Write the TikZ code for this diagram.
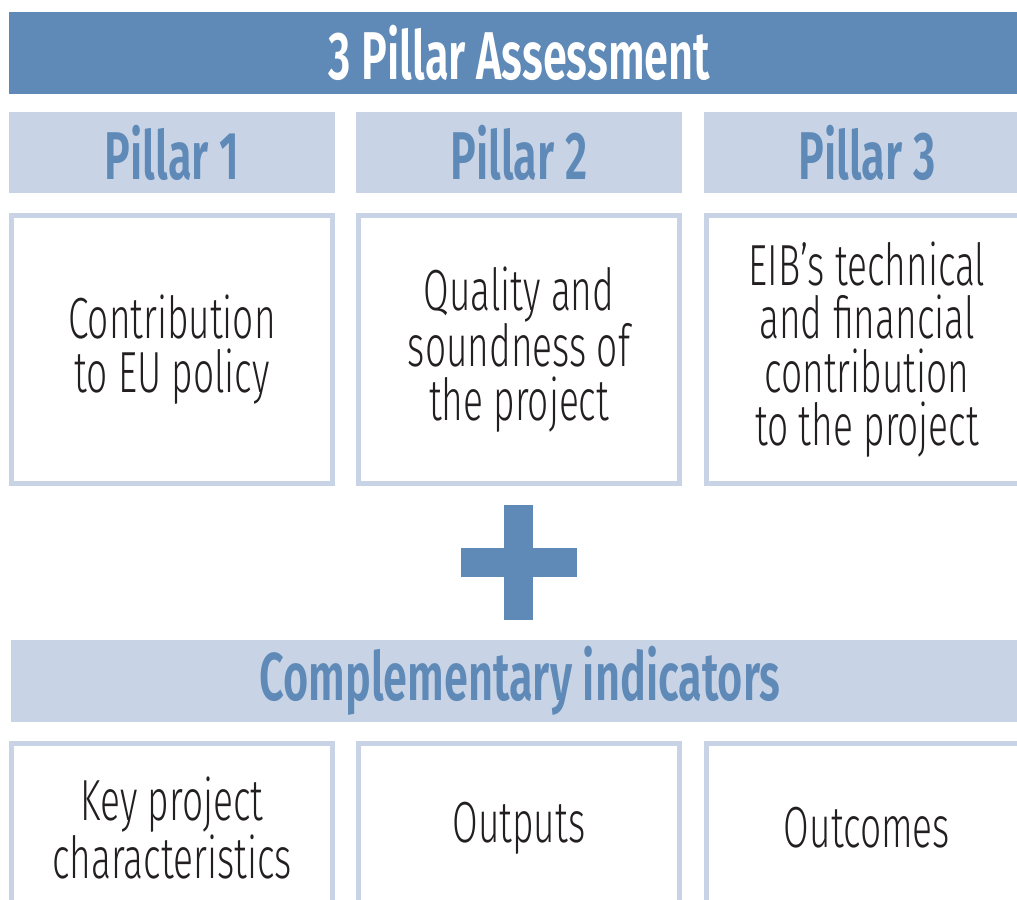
\documentclass[tikz,border=0pt]{standalone}
\usepackage{fontspec}
\setmainfont{Fira Sans}[UprightFont=* Light, BoldFont=* SemiBold, FakeStretch=0.64]
\usetikzlibrary{positioning}

\definecolor{eibdark}{RGB}{95,138,184}
\definecolor{eiblight}{RGB}{200,212,230}
\definecolor{eibtext}{RGB}{35,31,32}

\begin{document}
\begin{tikzpicture}
                    [x=0.02cm,y=-0.02cm,
                     banner/.style={fill=eibdark,text=white,inner sep=0pt,minimum width=20.42cm,minimum height=1.64cm,font=\bfseries\fontsize{38.5}{38.5}\selectfont},
                     pillar/.style={fill=eiblight,text=eibdark,inner sep=0pt,minimum width=6.52cm,minimum height=1.62cm,font=\bfseries\fontsize{38.5}{38.5}\selectfont},
                     content/.style={draw=eiblight,line width=0.1cm,fill=white,text=eibtext,align=center,inner sep=0pt,minimum width=6.42cm,minimum height=5.36cm,font=\fontsize{33}{30.5}\selectfont},
                     indicator/.style={content,minimum height=3.38cm}]

                        \useasboundingbox (0,0) rectangle (1017,899);
                        \clip (0,0) rectangle (1017,899);

                        \node[banner] (title) at (519.5,53) {3 Pillar Assessment};

                        \node[pillar] (pil1) at (172,152.5) {Pillar 1};
                        \node[pillar] (pil2) at (519,152.5) {Pillar 2};
                        \node[pillar] (pil3) at (867,152.5) {Pillar 3};

                        \node[content] (eupolicy) at (172,349.5) {Contribution\\to EU policy};
                        \node[content] (quality) at (519,349.5) {Quality and\\soundness of\\the project};
                        \node[content] (eibcontrib) at (867,349.5) {EIB’s technical\\and financial\\contribution\\to the project};

                        % plus sign
                        \fill[eibdark] (461,548) rectangle (577,577);
                        \fill[eibdark] (504,505) rectangle (533,620);

                        \node[banner,fill=eiblight,text=eibdark,minimum width=20.36cm] (compl) at (520,681) {Complementary indicators};

                        \node[indicator] (keychar) at (172,828) {Key project\\characteristics};
                        \node[indicator] (outputs) at (519,828) {Outputs};
                        \node[indicator] (outcomes) at (867,828) {Outcomes};

                \end{tikzpicture}
\end{document}
